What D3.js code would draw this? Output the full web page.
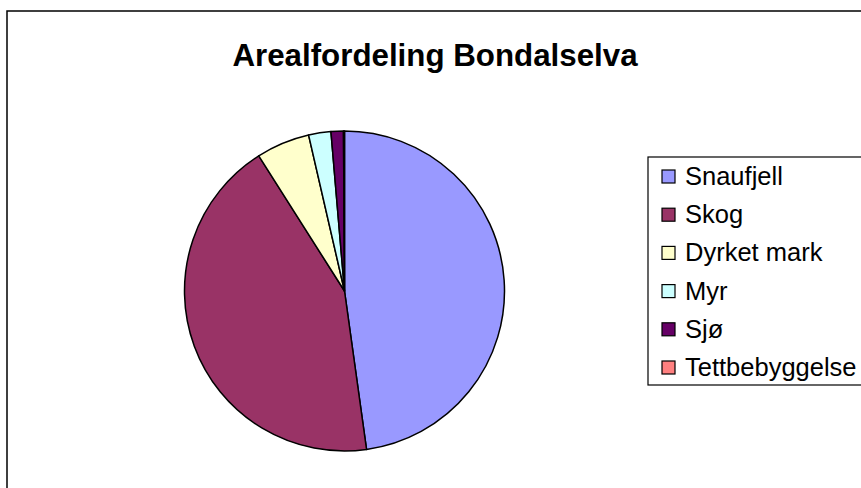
<!DOCTYPE html>
<html>
<head>
<meta charset="utf-8">
<script src="https://cdn.jsdelivr.net/npm/d3@7"></script>
<style>
  html, body { margin: 0; padding: 0; background: #fff; }
  svg { display: block; font-family: "Liberation Sans", Arial, sans-serif; }
</style>
</head>
<body>
<svg id="chart" width="861" height="488"></svg>
<script>
// Land-use shares (%) in the Bondalselva catchment
const categories = ["Snaufjell", "Skog", "Dyrket mark", "Myr", "Sjø", "Tettbebyggelse"];
const shares = [47.8, 43.2, 5.4, 2.25, 1.25, 0.1];
const colors = ["#9999FF", "#993366", "#FFFFCC", "#CCFFFF", "#660066", "#FF8080"];
const title = "Arealfordeling Bondalselva";

const svg = d3.select("#chart");

// outer chart frame (runs past the right and bottom edges)
svg.append("rect")
  .attr("x", 7).attr("y", 11)
  .attr("width", 870).attr("height", 490)
  .attr("fill", "#fff").attr("stroke", "#000").attr("stroke-width", 1.5);

svg.append("text")
  .attr("x", 435).attr("y", 66)
  .attr("text-anchor", "middle")
  .attr("font-size", 31.3).attr("font-weight", "bold")
  .text(title);

const data = categories.map((c, i) => ({ name: c, value: shares[i], color: colors[i] }));

const pie = d3.pie().sort(null).value(d => d.value);
const arc = d3.arc().innerRadius(0).outerRadius(160);

const g = svg.append("g").attr("transform", "translate(344.5,291)");
g.selectAll("path")
  .data(pie(data))
  .join("path")
  .attr("d", arc)
  .attr("fill", d => d.data.color)
  .attr("stroke", "#000")
  .attr("stroke-width", 1.5)
  .attr("stroke-linejoin", "round");

// legend
const legend = svg.append("g");
legend.append("rect")
  .attr("x", 648).attr("y", 157)
  .attr("width", 230).attr("height", 228)
  .attr("fill", "#fff").attr("stroke", "#000").attr("stroke-width", 1.2);

const rowY = d3.scalePoint().domain(categories).range([176, 367]);
const items = legend.selectAll("g.item")
  .data(data)
  .join("g")
  .attr("class", "item")
  .attr("transform", d => `translate(0,${rowY(d.name)})`);

items.append("rect")
  .attr("x", 662).attr("y", -6)
  .attr("width", 13).attr("height", 13)
  .attr("fill", d => d.color)
  .attr("stroke", "#000").attr("stroke-width", 1.2);

items.append("text")
  .attr("x", 685).attr("y", 9)
  .attr("font-size", 25.5)
  .text(d => d.name);
</script>
</body>
</html>
